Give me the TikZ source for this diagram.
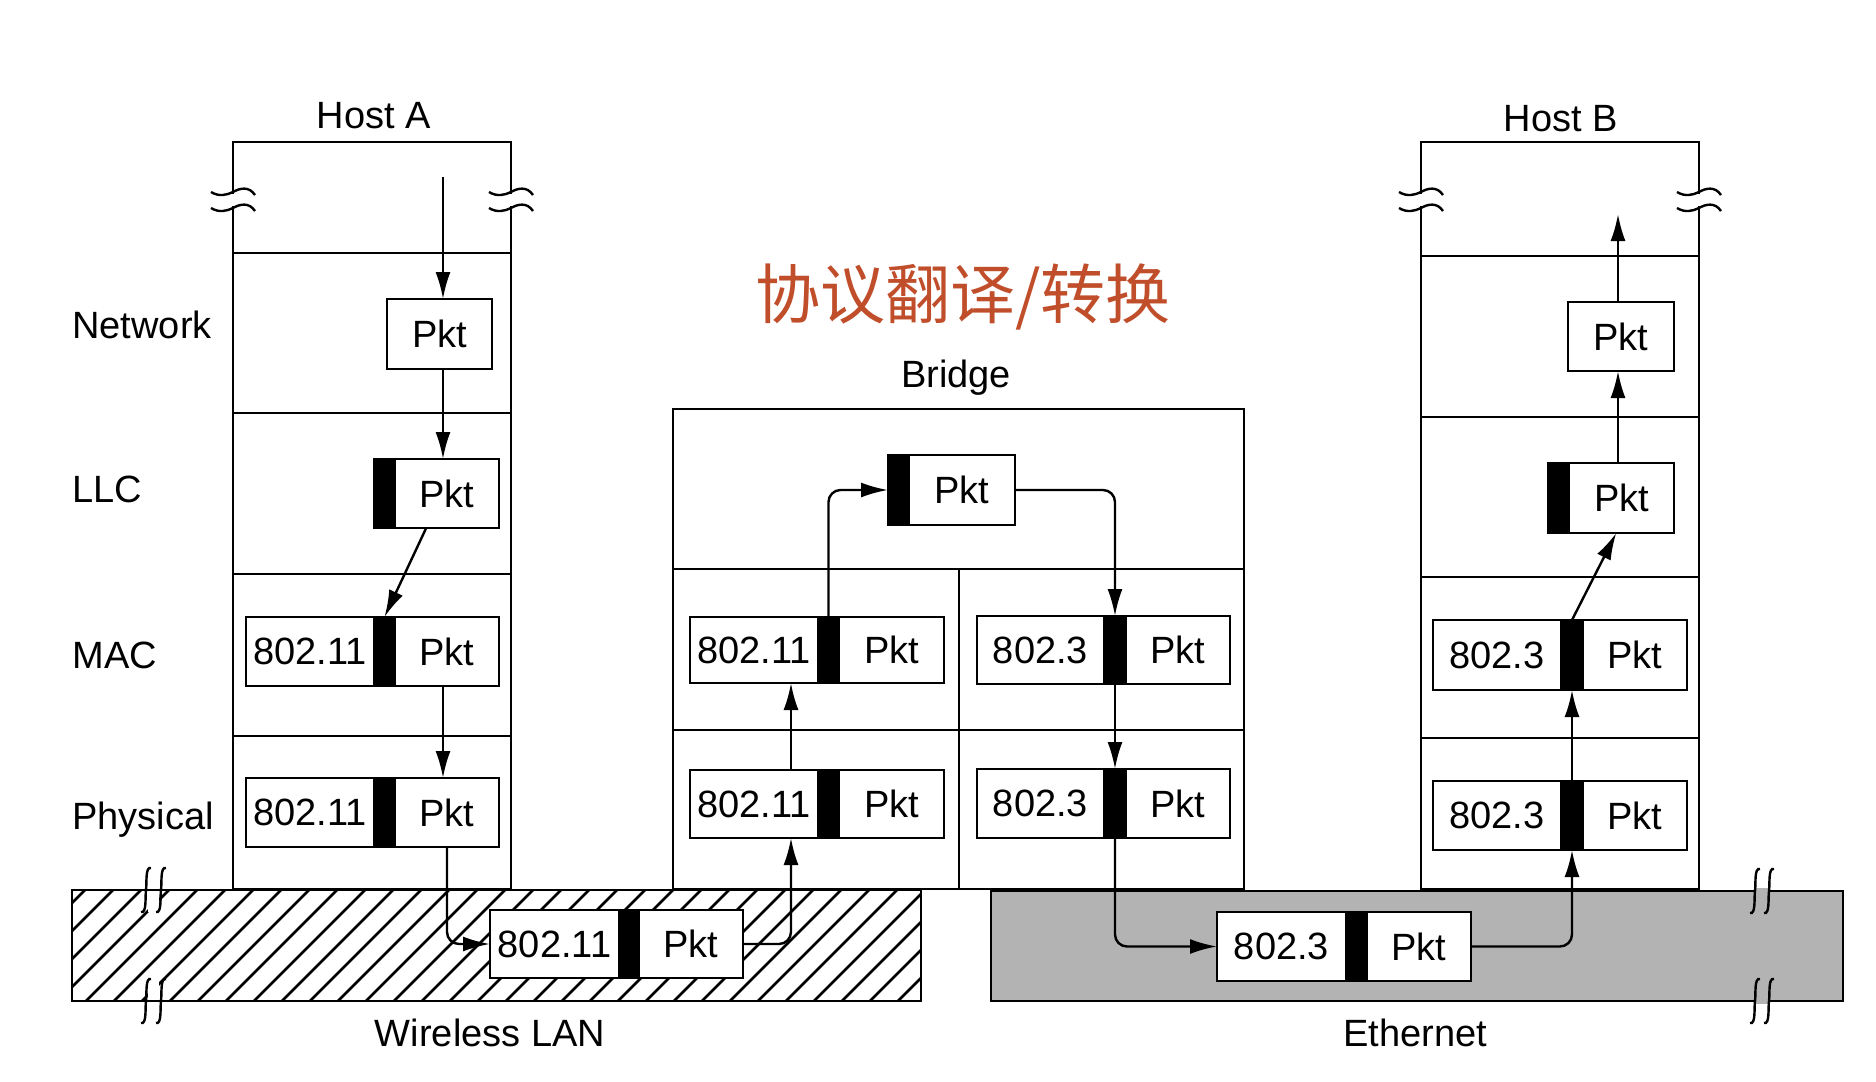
\documentclass[tikz,border=0pt]{standalone}
\usepackage{fontspec}
\setmainfont{Liberation Sans}
\newfontfamily\cjk{Noto Sans CJK SC}
\usetikzlibrary{arrows.meta,calc}
\definecolor{cnred}{RGB}{192,78,42}
\definecolor{ethgray}{RGB}{179,179,179}
\newcommand\pktbox[7][pb]{\node[#1, minimum width={(#5-#3)*0.5pt}, minimum height={(#6-#4)*0.5pt}] (#2) at ({(#3+#5)/2},{(#4+#6)/2}) {#7};}
\newcommand\hbrk[2]{\draw[brk] ({#1-22},{#2}) .. controls ({#1-14},{#2+5}) and ({#1-6},{#2+3}) .. ({#1},{#2}) .. controls ({#1+7},{#2-4}) and ({#1+16},{#2-6}) .. ({#1+22},{#2+3});}
\newcommand\vbrk[2]{\draw[brk] ({#1+5},{#2-22}) .. controls ({#1-1},{#2-24}) and ({#1+1},{#2-6}) .. ({#1},{#2}) .. controls ({#1-1},{#2+6}) and ({#1+1},{#2+24}) .. ({#1-5},{#2+22});}
\begin{document}
\begin{tikzpicture}[x=0.5pt,y=-0.5pt,
  lbl/.style={font=\fontsize{19pt}{22pt}\selectfont, inner sep=0},
  pb/.style={draw, fill=white, line width=1.3pt, inner sep=0, outer sep=0, font=\fontsize{19pt}{22pt}\selectfont},
  bar/.style={draw, fill=black, line width=1.3pt, inner sep=0, outer sep=0},
  frame/.style={line width=1.2pt},
  arr/.style={line width=1.2pt, -{Latex[length=13.5pt,width=7.5pt]}},
  rc/.style={rounded corners=6pt},
  brk/.style={line width=1.2pt},
  hatchline/.style={line width=1.3pt}]

\useasboundingbox (0,0) rectangle (1876,1082);

% ---------- frames ----------
\draw[frame] (233,142) rectangle (511,889);
\foreach \yy in {253,413,574,736} \draw[frame] (233,\yy) -- (511,\yy);
\draw[frame] (1421,142) rectangle (1699,889);
\foreach \yy in {256,417,577,738} \draw[frame] (1421,\yy) -- (1699,\yy);
\draw[frame] (673,409) rectangle (1244,889);
\foreach \yy in {569,730} \draw[frame] (673,\yy) -- (1244,\yy);
\draw[frame] (959,569) -- (959,889);

% host break marks
\foreach \xx in {233,511,1421,1699} {
  \fill[white] ({\xx-2},194) rectangle ({\xx+2},206);
  \hbrk{\xx}{192}
  \hbrk{\xx}{208}
}

% ---------- Wireless LAN ----------
\begin{scope}
  \clip (72,890) rectangle (921,1001);
  \foreach \k in {0,...,34} \draw[hatchline] ({85+28*\k},890) -- ({85+28*\k-111},1001);
\end{scope}
\fill[white] (148,892) rectangle (159,912);
\fill[white] (148,979) rectangle (159,999);
\draw[frame] (72,890) rectangle (921,1001);
\vbrk{146}{890}
\vbrk{161}{890}
\vbrk{146}{1001}
\vbrk{161}{1001}

% ---------- Ethernet ----------
\draw[frame, fill=ethgray] (991,891) rectangle (1843,1001);
\fill[ethgray] (1756,888) rectangle (1768,894);
\fill[ethgray] (1756,998) rectangle (1768,1004);
\vbrk{1755}{891}
\vbrk{1769}{891}
\vbrk{1755}{1001}
\vbrk{1769}{1001}

% ---------- labels ----------
\node[lbl, anchor=base] (hostA) at (374,128) {Host A};
\node[lbl, anchor=base] (hostB) at (1561,131) {Host B};
\node[lbl, anchor=base] (bridge) at (956,387) {Bridge};
\node[lbl, anchor=base west] (lnet) at (72,338) {Network};
\node[lbl, anchor=base west] (lllc) at (72,502) {LLC};
\node[lbl, anchor=base west] (lmac) at (72,668) {MAC};
\node[lbl, anchor=base west] (lphy) at (72,829) {Physical};
\node[lbl, anchor=base] (wlan) at (490,1046) {Wireless LAN};
\node[lbl, anchor=base] (eth) at (1415,1046) {Ethernet};
\node[text=cnred, inner sep=0, font=\cjk\fontsize{32.5pt}{36pt}\selectfont] (cn) at (963,297) {协议翻译/转换};

% ---------- Host A boxes ----------
\pktbox{hAnet}{387}{299}{492}{369}{Pkt}
\pktbox[bar]{hAllcb}{374}{459}{395}{528}{}
\pktbox{hAllc}{395}{459}{499}{528}{Pkt}
\pktbox{hAmach}{246}{617}{374}{686}{802.11}
\pktbox[bar]{hAmacb}{374}{617}{395}{686}{}
\pktbox{hAmac}{395}{617}{499}{686}{Pkt}
\pktbox{hAphyh}{246}{778}{374}{847}{802.11}
\pktbox[bar]{hAphyb}{374}{778}{395}{847}{}
\pktbox{hAphy}{395}{778}{499}{847}{Pkt}

% ---------- WLAN packet ----------
\pktbox{wh}{490}{910}{619}{978}{802.11}
\pktbox[bar]{wb}{619}{910}{639}{978}{}
\pktbox{wp}{639}{910}{743}{978}{Pkt}

% ---------- Bridge boxes ----------
\pktbox[bar]{bb}{888}{455}{909}{525}{}
\pktbox{bp}{909}{455}{1015}{525}{Pkt}
\pktbox{bLmh}{690}{617}{818}{683}{802.11}
\pktbox[bar]{bLmb}{818}{617}{839}{683}{}
\pktbox{bLm}{839}{617}{944}{683}{Pkt}
\pktbox{bLph}{690}{770}{818}{838}{802.11}
\pktbox[bar]{bLpb}{818}{770}{839}{838}{}
\pktbox{bLp}{839}{770}{944}{838}{Pkt}
\pktbox{bRmh}{977}{616}{1104}{684}{802.3}
\pktbox[bar]{bRmb}{1104}{616}{1126}{684}{}
\pktbox{bRm}{1126}{616}{1230}{684}{Pkt}
\pktbox{bRph}{977}{769}{1104}{838}{802.3}
\pktbox[bar]{bRpb}{1104}{769}{1126}{838}{}
\pktbox{bRp}{1126}{769}{1230}{838}{Pkt}

% ---------- Ethernet packet ----------
\pktbox{eh}{1217}{912}{1346}{981}{802.3}
\pktbox[bar]{eb}{1346}{912}{1367}{981}{}
\pktbox{ep}{1367}{912}{1471}{981}{Pkt}

% ---------- Host B boxes ----------
\pktbox{hBnet}{1568}{302}{1674}{371}{Pkt}
\pktbox[bar]{hBllcb}{1548}{463}{1569}{533}{}
\pktbox{hBllc}{1569}{463}{1674}{533}{Pkt}
\pktbox{hBmh}{1433}{620}{1561}{690}{802.3}
\pktbox[bar]{hBmb}{1561}{620}{1583}{690}{}
\pktbox{hBm}{1583}{620}{1687}{690}{Pkt}
\pktbox{hBph}{1433}{781}{1561}{850}{802.3}
\pktbox[bar]{hBpb}{1561}{781}{1583}{850}{}
\pktbox{hBp}{1583}{781}{1687}{850}{Pkt}

% ---------- arrows ----------
\coordinate (aTop) at (443,177);
\draw[arr] (aTop) -- (aTop |- hAnet.north);
\draw[arr] (aTop |- hAnet.south) -- (aTop |- hAllc.north);
\draw[arr] ($(hAllc.south west)!0.3!(hAllc.south east)$) -- (hAmacb.north);
\draw[arr] (aTop |- hAmac.south) -- (aTop |- hAphy.north);
\draw[arr, rc] (hAphy.south) |- (wh.west);

\coordinate (bLx) at (791,0);
\draw[arr, rc] (wp.east) -| (bLx |- bLph.south);
\draw[arr] (bLx |- bLph.north) -- (bLx |- bLmh.south);
\draw[arr, rc] (bLmb.north) |- (bb.west);
\draw[arr, rc] (bp.east) -| (bRmb.north);
\draw[arr] (bRmb.south) -- (bRpb.north);
\draw[arr, rc] (bRpb.south) |- (eh.west);

\draw[arr, rc] (ep.east) -| (hBpb.south);
\draw[arr] (hBpb.north) -- (hBmb.south);
\draw[arr] (hBmb.north) -- ($(hBllc.south west)!0.45!(hBllc.south east)$);
\coordinate (bTop) at (1618,214);
\draw[arr] (bTop |- hBllc.north) -- (bTop |- hBnet.south);
\draw[arr] (bTop |- hBnet.north) -- (bTop);
\end{tikzpicture}
\end{document}
